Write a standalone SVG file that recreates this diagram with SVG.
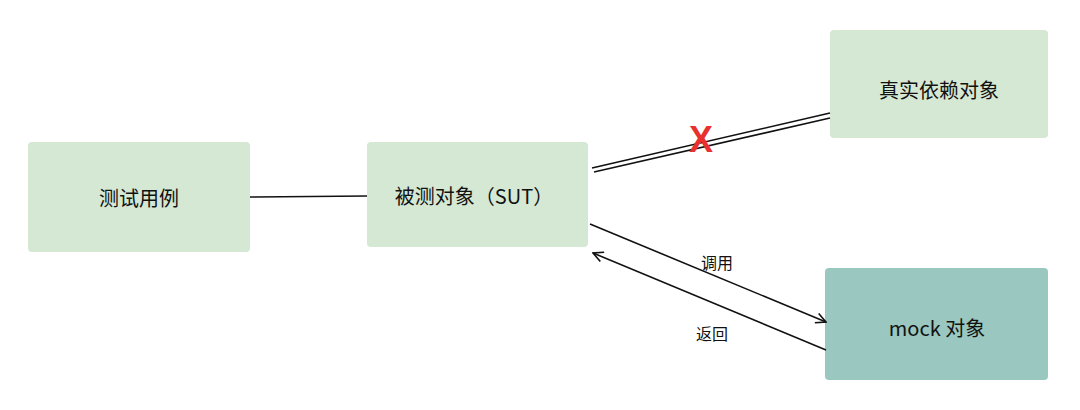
<svg xmlns="http://www.w3.org/2000/svg" width="1080" height="410" viewBox="0 0 1080 410">
<style>
.n{fill:#d5e8d4;stroke:none}
.m{fill:#9ac7bf;stroke:none}
text{font-family:"Noto Sans CJK SC","Liberation Sans",sans-serif;fill:#111;text-anchor:middle;dominant-baseline:central}
.t{font-size:20px}
.l{font-size:16px}
.c{stroke:#111;stroke-width:1.6;fill:none}
</style>
<defs>
<marker id="a" viewBox="0 0 12 12" refX="11" refY="6" markerWidth="12" markerHeight="12" markerUnits="userSpaceOnUse" orient="auto">
<path d="M1,1 L11,6 L1,11" fill="none" stroke="#111" stroke-width="1.6"/>
</marker>
</defs>
<rect width="1080" height="410" fill="#fff"/>
<g id="n1"><rect class="n" x="28" y="142" width="222" height="110" rx="4"/><text class="t" x="139" y="197">测试用例</text></g>
<g id="n2"><rect class="n" x="367" y="142" width="221" height="105" rx="4"/><text class="t" x="474" y="195">被测对象（SUT）</text></g>
<g id="n3"><rect class="n" x="830" y="30" width="218" height="108" rx="4"/><text class="t" x="939" y="89">真实依赖对象</text></g>
<g id="n4"><rect class="m" x="825" y="268" width="223" height="112" rx="4"/><text class="t" x="937" y="327">mock 对象</text></g>
<g id="edges">
<path class="c" d="M250,197 L367,196"/>
<path class="c" d="M592,168 L830,113"/>
<path class="c" d="M594,172 L830,118"/>
<text x="701" y="139" style="font-size:36px;font-weight:bold;fill:#e8312f;font-family:'Liberation Sans',sans-serif">X</text>
<path class="c" d="M590,224 L826,322" marker-end="url(#a)"/>
<text class="l" x="717" y="262">调用</text>
<path class="c" d="M826,350 L593,253" marker-end="url(#a)"/>
<text class="l" x="712" y="333">返回</text>
</g>
</svg>
